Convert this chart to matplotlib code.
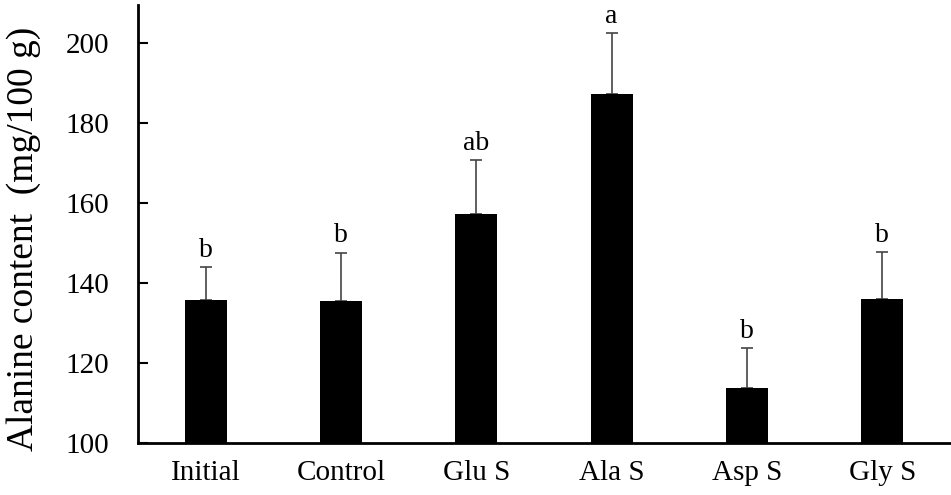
import matplotlib
matplotlib.use("Agg")
import matplotlib.pyplot as plt
import numpy as np

categories = ["Initial", "Control", "Glu S", "Ala S", "Asp S", "Gly S"]
means = [135.7, 135.6, 157.3, 187.2, 113.8, 136.0]
err_upper = [8.3, 12.0, 13.4, 15.2, 9.9, 11.8]
letters = ["b", "b", "ab", "a", "b", "b"]
yticks = [100, 120, 140, 160, 180, 200]

plt.rcParams['font.family'] = ['Liberation Serif', 'DejaVu Serif']

fig = plt.figure(figsize=(9.51, 4.95), dpi=100)
ax = fig.add_axes([138/951, 52/495, (950-138)/951, (443-5)/495])

x = np.arange(len(categories))
ax.bar(x, np.array(means) - 100, bottom=100, width=0.31, color="black", zorder=2)
ax.errorbar(x, means, yerr=[np.zeros(len(means)), err_upper], fmt="none",
            ecolor="#444444", elinewidth=1.2, capsize=4, capthick=1.2, zorder=1)
for xi, m, e, t in zip(x, means, err_upper, letters):
    ax.annotate(t, (xi, m + e), xytext=(0, 3), textcoords="offset points",
                ha="center", va="bottom", fontsize=20)

ax.set_xlim(-0.5, len(categories) - 0.5)
ax.set_ylim(100, 209.5)
ax.set_yticks(yticks)
ax.set_xticks(x)
ax.set_xticklabels(categories, fontsize=21)
ax.tick_params(axis="y", direction="in", length=7, width=1.5, labelsize=21, pad=21)
ax.tick_params(axis="x", length=0, pad=12)
for s in ["top", "right"]:
    ax.spines[s].set_visible(False)
for s in ["left", "bottom"]:
    ax.spines[s].set_linewidth(2)
ax.set_ylabel("Alanine content  (mg/100 g)", fontsize=27)
ax.yaxis.set_label_coords(-0.12, 0.466)

fig.savefig("out.png", dpi=100)
